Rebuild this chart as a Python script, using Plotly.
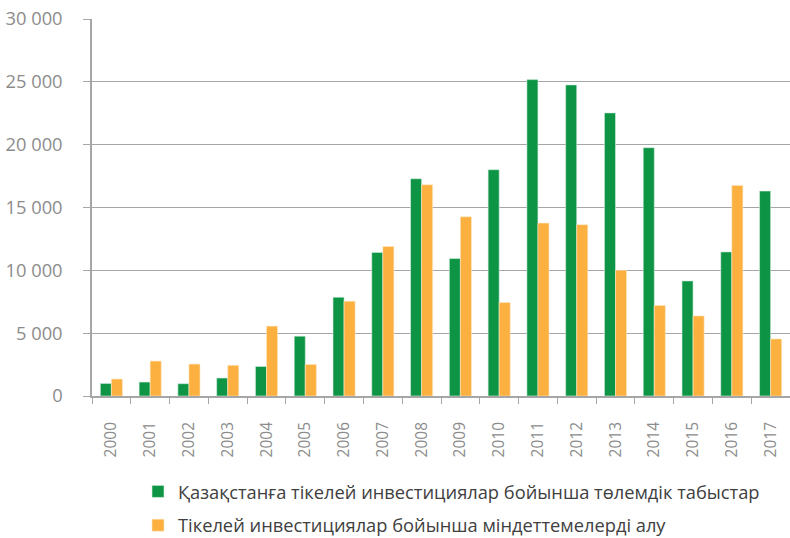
import plotly.graph_objects as go

years = [str(y) for y in range(2000, 2018)]
income_payments = [1000, 1110, 980, 1430, 2350, 4760, 7860, 11430, 17290, 10940,
                   18010, 25180, 24760, 22530, 19760, 9160, 11470, 16310]
liabilities = [1350, 2780, 2540, 2440, 5560, 2510, 7540, 11900, 16810, 14260,
               7440, 13760, 13630, 10010, 7200, 6370, 16760, 4540]
series_names = ["Қазақстанға тікелей инвестициялар бойынша төлемдік табыстар",
                "Тікелей инвестициялар бойынша міндеттемелерді алу"]
y_tickvals = [0, 5000, 10000, 15000, 20000, 25000, 30000]
y_ticktext = ["0", "5 000", "10 000", "15 000", "20 000", "25 000", "30 000"]

GREEN = "#0d9445"
ORANGE = "#fbb040"
AXIS = "#a6a6a6"
LABEL = "#8c8c8c"
FONT = "Open Sans"

fig = go.Figure()
fig.add_trace(go.Bar(x=years, y=income_payments, name=series_names[0], legendgroup="a",
                     marker=dict(color=GREEN, line=dict(color="#d6efe0", width=0.6))))
fig.add_trace(go.Bar(x=years, y=liabilities, name=series_names[1], legendgroup="b",
                     marker=dict(color=ORANGE, line=dict(color="#fde8c4", width=0.6))))

fig.update_layout(
    width=790, height=538,
    margin=dict(l=92, r=0, t=19, b=142, autoexpand=False),
    paper_bgcolor="white", plot_bgcolor="white",
    barmode="group", bargap=0.43, bargroupgap=0,
    font=dict(family=FONT, size=16, color=LABEL),
    showlegend=True,
    legend=dict(xref="container", yref="container", x=0.1747, xanchor="left",
                y=0.1208, yanchor="top",
                orientation="v", font=dict(family=FONT, size=18.3, color="#404040"),
                tracegroupgap=7, itemwidth=30, bgcolor="rgba(0,0,0,0)"),
    xaxis=dict(type="category", tickangle=-90, ticks="outside", ticklen=6,
               tickcolor=AXIS, tickson="boundaries", showgrid=False, automargin=False,
               showline=True, linecolor=AXIS, linewidth=1.5, ticklabelstandoff=18,
               tickfont=dict(family=FONT, size=15.5, color=LABEL)),
    yaxis=dict(range=[0, 30005], tickvals=y_tickvals, ticktext=y_ticktext,
               ticks="outside", ticklen=7, tickcolor=AXIS, showgrid=True, automargin=False,
               gridcolor=AXIS, gridwidth=1.2, showline=True, linecolor=AXIS,
               linewidth=1.5, zeroline=False, ticklabelstandoff=17,
               tickfont=dict(family=FONT, size=18.3, color=LABEL)),
)

fig.write_html("out.html", config={"displayModeBar": False},
               post_script="document.body.style.margin='0';document.body.style.overflow='hidden';")
